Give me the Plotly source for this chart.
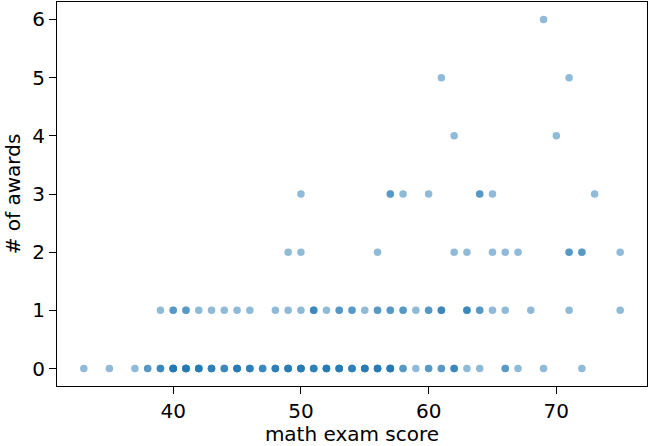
import plotly.graph_objects as go

# Math exam scores of students, grouped by the number of awards they received.
# Repeated scores are separate students sharing the same score.
scores_0_awards = (
    [33, 35, 37] + [38] * 2 + [39] * 3 + [40] * 6 + [41] * 6 + [42] * 5 + [43] * 4
    + [44] * 3 + [45] * 5 + [46] * 4 + [47] * 3 + [48] * 4 + [49] * 5 + [50] * 5
    + [51] * 4 + [52] * 5 + [53] * 5 + [54] * 4 + [55] * 5 + [56] * 5 + [57] * 6
    + [58] * 2 + [59] + [60] * 2 + [61] * 2 + [62] * 3 + [63] + [64] + [66] * 2
    + [67] + [69] + [72]
)
scores_1_award = (
    [39] + [40] * 2 + [41] * 2 + [42, 43, 44, 45, 46, 48, 49, 50] + [51] * 3 + [52]
    + [53] * 2 + [54] * 2 + [55] + [56] * 2 + [57] * 2 + [58] * 2 + [59] + [60] * 2
    + [61] * 3 + [63] * 3 + [64] * 2 + [65, 66, 68, 71, 75]
)
scores_2_awards = [49, 50, 56, 62, 63, 65, 66, 67] + [71] * 2 + [72] * 2 + [75]
scores_3_awards = [50] + [57] * 2 + [58, 60] + [64] * 2 + [65, 73]
scores_4_awards = [62, 70]
scores_5_awards = [61, 71]
scores_6_awards = [69]

groups = [
    (0, scores_0_awards),
    (1, scores_1_award),
    (2, scores_2_awards),
    (3, scores_3_awards),
    (4, scores_4_awards),
    (5, scores_5_awards),
    (6, scores_6_awards),
]

math_score = []
num_awards = []
for awards, scores in groups:
    math_score.extend(scores)
    num_awards.extend([awards] * len(scores))

x_ticks = [40, 50, 60, 70]
y_ticks = [0, 1, 2, 3, 4, 5, 6]

FONT = dict(family="DejaVu Sans", size=20, color="black")

fig = go.Figure(
    go.Scatter(
        x=math_score,
        y=num_awards,
        mode="markers",
        marker=dict(size=7.5, color="#1f77b4", opacity=0.5, line=dict(width=0)),
        hoverinfo="x+y",
    )
)

axis_common = dict(
    showgrid=False,
    zeroline=False,
    showline=True,
    linecolor="black",
    linewidth=1.2,
    mirror=True,
    ticks="outside",
    ticklen=7,
    tickwidth=1.2,
    tickcolor="black",
    tickfont=FONT,
)

fig.update_xaxes(
    range=[30.9, 77.1],
    tickvals=x_ticks,
    title=dict(text="math exam score", font=FONT, standoff=4),
    **axis_common,
)
fig.update_yaxes(
    range=[-0.3, 6.3],
    tickvals=y_ticks,
    title=dict(text="# of awards", font=FONT, standoff=6),
    **axis_common,
)

fig.update_layout(
    width=649,
    height=446,
    margin=dict(l=57, r=2, t=2, b=60),
    plot_bgcolor="white",
    paper_bgcolor="white",
    showlegend=False,
)

fig.write_html("out.html")
